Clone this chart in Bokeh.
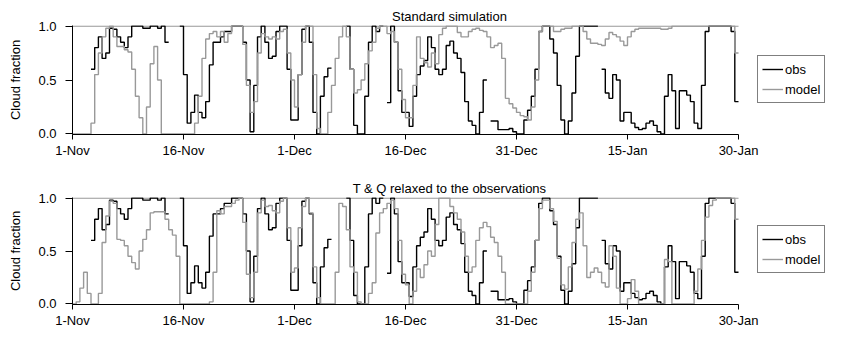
import numpy as np
from bokeh.plotting import figure
from bokeh.models import (Range1d, FixedTicker, PrintfTickFormatter, Legend,
                          LegendItem, Title)
from bokeh.layouts import column
from bokeh.embed import file_html
from bokeh.resources import INLINE

nan = float("nan")

# x tick labels (day offsets from 1-Nov)
tick_days = [0, 15, 30, 45, 60, 75, 90]
tick_labels = ["1-Nov", "16-Nov", "1-Dec", "16-Dec", "31-Dec", "15-Jan", "30-Jan"]

# half-day samples from 1-Nov to 30-Jan
obs = [
    nan, nan, nan, nan, nan, 0.6, 0.8, 0.9, 0.7, 0.75,
    0.98, 0.97, 0.9, 0.85, 0.8, 0.9, 1.0, 1.0, 1.0, 0.98,
    0.98, 1.0, 1.0, 0.98, 1.0, 0.85, nan, nan, nan, 1.0,
    0.55, 0.1, 0.2, 0.36, 0.2, 0.15, 0.3, 0.64, 0.85, 0.85,
    0.9, 0.95, 0.95, 1.0, 1.0, 1.0, 0.85, 0.5, 0.02, 0.45,
    0.9, 1.0, 0.85, 0.7, 0.72, 0.95, 1.0, 1.0, 0.6, 0.13,
    0.13, 0.55, 0.97, 1.0, 0.85, 0.2, 0.0, 0.35, 0.53, 0.61,
    nan, nan, nan, nan, 1.0, 0.6, 0.08, 0.0, 0.0, 0.35,
    0.85, 1.0, 0.95, 1.0, nan, 0.29, 1.0, 0.85, 0.4, 0.2,
    0.2, 0.07, 0.35, 0.55, 0.63, 0.68, 0.9, 0.8, 0.6, 0.55,
    0.6, 0.82, 0.86, 0.75, 0.7, 0.57, 0.3, 0.12, 0.08, 0.0,
    0.2, 0.5, nan, 0.12, 0.12, 0.04, 0.04, 0.04, 0.05, 0.02,
    0.0, 0.0, 0.13, 0.22, 0.35, 0.6, 0.95, 1.0, 1.0, 0.88,
    0.75, 0.45, 0.13, 0.0, 0.12, 0.38, 0.72, 1.0, 1.0, 1.0,
    1.0, 1.0, nan, 0.6, 0.38, 0.33, 0.55, 0.5, 0.12, 0.2,
    0.2, 0.1, 0.06, 0.04, 0.05, 0.1, 0.12, 0.08, 0.02, 0.0,
    0.35, 0.55, 0.4, 0.05, 0.4, 0.4, 0.36, 0.3, 0.1, 0.05,
    0.45, 0.95, 1.0, 1.0, 1.0, 1.0, 1.0, 1.0, 0.95, 0.3,
]

model_std = [
    0, 0, 0, 0, 0, 0.1, 0.55, 0.75, 0.9, 0.98,
    1.0, 0.9, 0.81, 0.81, 0.78, 0.76, 0.6, 0.35, 0.15, 0.0,
    0.25, 0.65, 0.81, 0.5, 0.0, 0, 0, 0, 0, 0,
    0, 0, 0, 0.1, 0.35, 0.7, 0.88, 0.93, 0.95, 0.9,
    0.95, 0.85, 0.93, 1.0, 1.0, 1.0, 0.83, 0.45, 0.2, 0.3,
    0.75, 0.93, 0.9, 0.88, 0.9, 0.88, 0.95, 0.97, 0.75, 0.5,
    0.25, 0.55, 0.85, 1.0, 1.0, 0.55, 0.05, 0.0, 0.0, 0.2,
    0.45, 0.7, 0.9, 1.0, 0.9, 0.6, 0.38, 0.41, 0.5, 0.65,
    0.77, 0.85, 0.98, 1.0, 1.0, 0.93, 0.95, 0.85, 0.6, 0.32,
    0.15, 0.15, 0.45, 0.9, 0.7, 0.66, 0.62, 0.75, 0.65, 0.92,
    0.98, 1.0, 1.0, 1.0, 0.94, 0.9, 0.9, 0.95, 0.97, 0.98,
    0.96, 0.95, 0.9, 0.8, 0.82, 0.84, 0.7, 0.33, 0.28, 0.24,
    0.2, 0.17, 0.16, 0.13, 0.25, 0.5, 0.95, 1.0, 1.0, 1.0,
    0.95, 0.95, 0.97, 0.98, 0.98, 1.0, 1.0, 1.0, 0.95, 0.88,
    0.84, 0.84, 0.83, 0.82, 0.88, 0.94, 0.92, 0.9, 0.86, 0.82,
    0.9, 0.95, 0.97, 0.98, 0.98, 0.98, 0.98, 0.98, 0.98, 0.97,
    0.97, 0.98, 1, 1, 1, 1, 1, 1, 1, 1,
    1, 1, 1, 1, 1, 1, 1, 1, 1, 0.75,
]

model_relax = [
    0, 0.02, 0.15, 0.3, 0.1, 0, 0, 0.1, 0.58, 0.83,
    0.97, 0.95, 0.61, 0.6, 0.55, 0.45, 0.39, 0.33, 0.5, 0.61,
    0.7, 0.86, 0.87, 0.87, 0.87, 0.8, 0.7, 0.65, 0.45, 0.0,
    0, 0, 0, 0, 0, 0, 0, 0.02, 0.3, 0.88,
    0.85, 0.92, 0.92, 0.95, 0.98, 1.0, 0.77, 0.28, 0.06, 0.3,
    0.86, 0.98, 0.92, 0.93, 0.88, 0.86, 0.97, 1.0, 0.72, 0.3,
    0.34, 0.72, 0.92, 1.0, 0.86, 0.35, 0.06, 0.0, 0.0, 0.0,
    0.0, 0.3, 0.95, 0.92, 0.7, 0.35, 0.3, 0.02, 0.0, 0.0,
    0.1, 0.2, 0.67, 0.86, 0.9, 0.95, 0.98, 0.9, 0.6, 0.28,
    0.18, 0.0, 0.12, 0.33, 0.25, 0.37, 0.5, 0.45, 0.75, 1.0,
    1.0, 1.0, 0.92, 0.86, 0.8, 0.68, 0.45, 0.3, 0.35, 0.6,
    0.72, 0.77, 0.73, 0.63, 0.58, 0.45, 0.3, 0.0, 0, 0,
    0, 0, 0, 0.12, 0.3, 0.6, 0.9, 0.98, 0.98, 0.9,
    0.78, 0.43, 0.18, 0.14, 0.35, 0.58, 0.8, 0.86, 0.55, 0.25,
    0.3, 0.34, 0.3, 0.2, 0.16, 0.55, 0.45, 0.15, 0.0, 0.0,
    0.05, 0.23, 0.12, 0, 0, 0, 0, 0, 0, 0,
    0.42, 0.4, 0, 0, 0, 0, 0, 0, 0.12, 0.33,
    0.6, 0.82, 0.93, 0.98, 1, 1, 1, 1, 1, 0.8,
]

titles = ["Standard simulation", "T & Q relaxed to the observations"]
series_labels = ["obs", "model"]

FONT = "Liberation Sans"
GRAY = "#999999"
FIG_W = 826
LEFT = 72
DATA_W = 666          # pixels spanned by 1-Nov .. 30-Jan
FRAME_W = FIG_W - LEFT

days = np.arange(len(obs)) * 0.5
end_day = tick_days[-1]
x_end = end_day * FRAME_W / DATA_W


def step_xy(x, y, end):
    x = np.asarray(x, dtype=float)
    y = np.asarray(y, dtype=float)
    xs = np.empty(2 * len(x))
    ys = np.empty(2 * len(x))
    xs[0::2] = x
    xs[1::2] = np.append(x[1:], end)
    ys[0::2] = y
    ys[1::2] = y
    return xs, ys


def make_panel(title, model, height, top, bottom):
    p = figure(width=FIG_W, height=height, output_backend="svg", toolbar_location=None,
               x_range=Range1d(0, x_end), y_range=Range1d(-0.005, 1.005),
               min_border_left=LEFT, min_border_right=0,
               min_border_top=top, min_border_bottom=bottom)
    p.title = Title(text=title, align="left", offset=0, text_font=FONT,
                    text_font_size="13px", text_font_style="normal",
                    text_color="#000000", standoff=4)
    p.outline_line_color = None
    p.xgrid.visible = False
    p.ygrid.visible = False
    p.background_fill_color = "white"
    p.border_fill_color = "white"

    # top gray line at 1.0 across the data area
    p.line([0, end_day], [1.0, 1.0], line_color=GRAY, line_width=1.2)

    xo, yo = step_xy(days, obs, end_day)
    xm, ym = step_xy(days, model, end_day)
    r_obs = p.line(xo, yo, line_color="#000000", line_width=1.4)
    r_mod = p.line(xm, ym, line_color=GRAY, line_width=1.4)

    legend = Legend(items=[LegendItem(label=series_labels[0], renderers=[r_obs]),
                           LegendItem(label=series_labels[1], renderers=[r_mod])],
                    location=(DATA_W + 19, 31), orientation="vertical")
    legend.border_line_color = "#000000"
    legend.border_line_width = 1
    legend.background_fill_alpha = 1
    legend.label_text_font = FONT
    legend.label_text_font_size = "13px"
    legend.label_text_color = "#000000"
    legend.glyph_width = 21
    legend.glyph_height = 18
    legend.label_height = 18
    legend.label_standoff = 2
    legend.padding = 4
    legend.spacing = 2
    legend.margin = 0
    p.add_layout(legend, "center")

    xa = p.xaxis[0]
    xa.bounds = (0, end_day)
    xa.ticker = FixedTicker(ticks=tick_days)
    xa.major_label_overrides = {d: l for d, l in zip(tick_days, tick_labels)}
    xa.minor_tick_line_color = None
    xa.major_tick_in = 0
    xa.major_tick_out = 5
    xa.major_label_standoff = 3
    xa.axis_line_color = "#000000"
    xa.major_tick_line_color = "#000000"
    xa.major_label_text_font = FONT
    xa.major_label_text_font_size = "13px"
    xa.major_label_text_color = "#000000"

    ya = p.yaxis[0]
    ya.ticker = FixedTicker(ticks=[0, 0.5, 1.0])
    ya.formatter = PrintfTickFormatter(format="%.1f")
    ya.minor_tick_line_color = None
    ya.major_tick_in = 0
    ya.major_tick_out = 7
    ya.major_label_standoff = 9
    ya.axis_line_color = "#000000"
    ya.major_tick_line_color = "#000000"
    ya.major_label_text_font = FONT
    ya.major_label_text_font_size = "13px"
    ya.major_label_text_color = "#000000"
    ya.axis_label = "Cloud fraction"
    ya.axis_label_text_font = FONT
    ya.axis_label_text_font_size = "13px"
    ya.axis_label_text_font_style = "normal"
    ya.axis_label_text_color = "#000000"
    ya.axis_label_standoff = 12
    return p


p1 = make_panel(titles[0], model_std, 172, 25, 38)
p2 = make_panel(titles[1], model_relax, 158, 25, 24)

# center titles over the data area (1-Nov .. 30-Jan), not the whole frame
for fig in (p1, p2):
    fig.title.align = "center"
    fig.title.offset = -(FRAME_W - DATA_W) / 2

layout = column(p1, p2, spacing=0)
open("out.html", "w").write(file_html(layout, INLINE))
